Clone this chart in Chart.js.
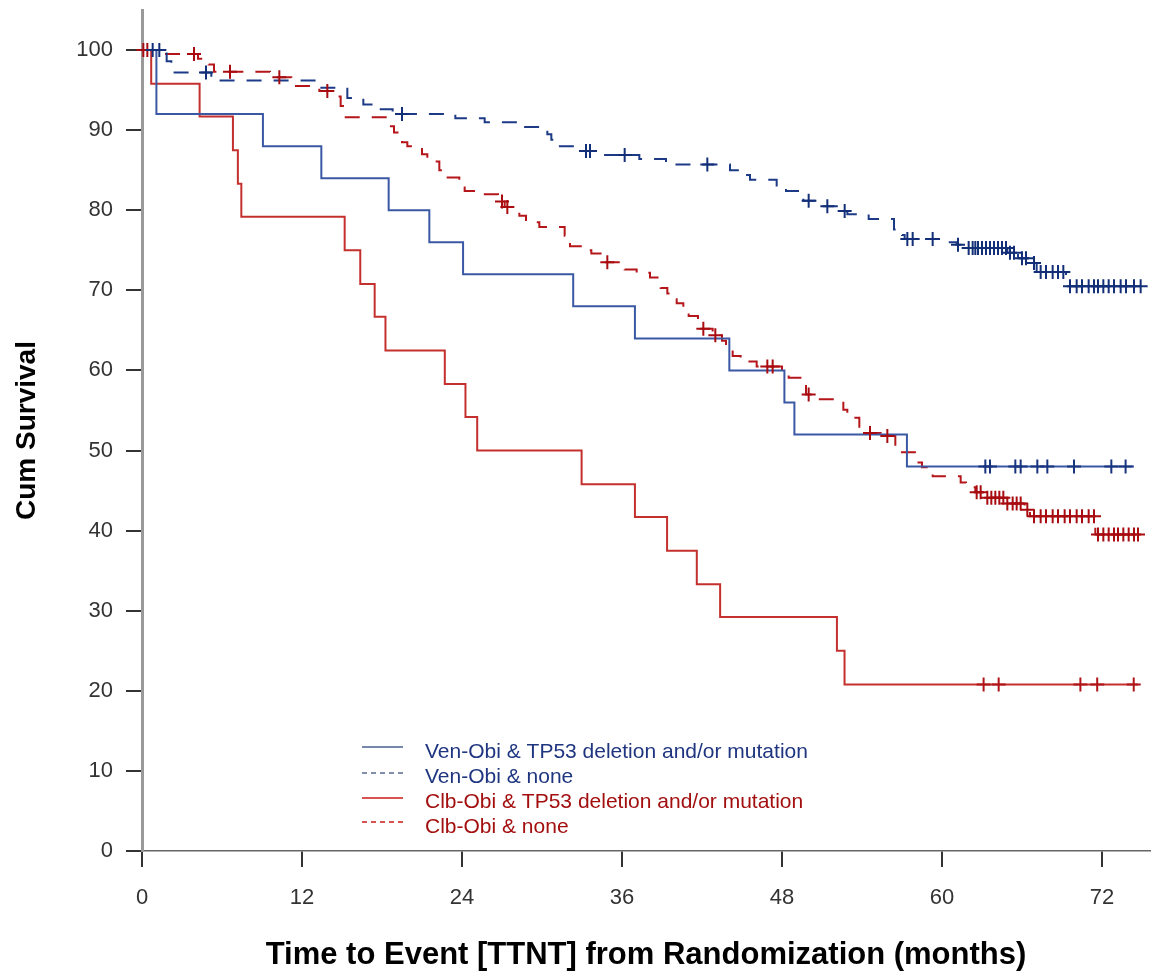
<!DOCTYPE html>
<html><head><meta charset="utf-8">
<script src="https://cdn.jsdelivr.net/npm/chart.js@4.4.1/dist/chart.umd.min.js"></script>
<style>html,body{margin:0;padding:0;background:#fff;overflow:hidden}canvas{display:block}</style>
</head><body><canvas id="c" width="1151" height="978" style="width:1151px;height:978px"></canvas>
<script>
// ---- data (months, cumulative survival %) ----
const seriesLabels = [
  "Ven-Obi & TP53 deletion and/or mutation",
  "Ven-Obi & none",
  "Clb-Obi & TP53 deletion and/or mutation",
  "Clb-Obi & none"
];
const xTickValues = [0, 12, 24, 36, 48, 60, 72];
const yTickValues = [0, 10, 20, 30, 40, 50, 60, 70, 80, 90, 100];
const xTitle = "Time to Event [TTNT] from Randomization (months)";
const yTitle = "Cum Survival";

const venTp53Times = [0, 1.08, 9.07, 13.45, 18.5, 21.55, 24.08, 32.34, 36.97, 44.05, 48.18, 48.93, 57.37, 74.4];
const venTp53Surv  = [100, 92, 88, 84, 80, 76, 72, 68, 64, 60, 56, 52, 48, 48];
const venTp53Censored = [63.25, 63.6, 65.5, 65.9, 67.15, 67.9, 69.9, 72.7, 73.77];

const venNoneTimes = [0, 1.85, 2.2, 5.2, 13.3, 15.4, 16.6, 17.5, 18.8, 23.5, 25.7, 28.5, 30.4, 30.7, 31.2, 32.7, 34.6, 37.3, 39.3, 44.1, 44.9, 45.6, 47.6, 48.3, 49.2, 49.6, 50.9, 52.4, 52.9, 54.5, 56.4, 57.0, 57.2, 60.0, 61.1, 61.7, 64.9, 65.7, 66.6, 67.1, 69.3, 75.1];
const venNoneSurv  = [100, 98.6, 97.2, 96.2, 95.3, 94.0, 93.2, 92.6, 92.0, 91.5, 91.0, 90.4, 89.5, 88.8, 88.0, 87.4, 86.9, 86.4, 85.7, 85.0, 84.4, 83.8, 82.9, 82.4, 81.7, 81.2, 80.5, 79.9, 79.5, 78.9, 77.6, 76.9, 76.4, 76.0, 75.7, 75.3, 74.7, 74.0, 73.4, 72.3, 70.5, 70.5];
const venNoneCensored = [0.8, 1.3, 4.8, 19.5, 33.3, 33.6, 36.2, 42.4, 50.0, 51.4, 52.7, 57.4, 57.8, 59.3, 61.2, 62.0, 62.3, 62.5, 62.7, 63.0, 63.3, 63.6, 63.9, 64.2, 64.5, 64.8, 65.1, 65.4, 66.0, 66.3, 66.9, 67.4, 67.8, 68.3, 68.7, 69.1, 69.6, 70.1, 70.5, 71.0, 71.4, 71.7, 72.1, 72.5, 72.9, 73.4, 73.8, 74.4, 74.9];

const clbTp53Times = [0, 0.69, 4.32, 6.82, 7.19, 7.45, 15.2, 16.37, 17.45, 18.26, 22.71, 24.26, 25.14, 32.97, 36.97, 39.38, 41.61, 43.36, 52.12, 52.69, 74.7];
const clbTp53Surv  = [100, 95.8, 91.7, 87.5, 83.3, 79.2, 75.0, 70.8, 66.7, 62.5, 58.3, 54.2, 50.0, 45.8, 41.7, 37.5, 33.3, 29.2, 25.0, 20.8, 20.8];
const clbTp53Censored = [63.12, 64.25, 70.38, 71.64, 74.38];

const clbNoneTimes = [0, 1.3, 4.2, 5.0, 5.4, 9.6, 11.2, 13.3, 14.5, 14.9, 15.2, 18.4, 18.9, 19.5, 19.9, 21.0, 21.4, 22.3, 22.8, 23.8, 24.2, 25.6, 26.7, 27.2, 28.3, 28.8, 29.8, 31.7, 32.1, 33.2, 33.7, 34.6, 36.2, 37.1, 38.1, 38.9, 39.4, 39.8, 40.1, 40.6, 41.0, 41.7, 42.8, 43.5, 43.8, 44.3, 44.9, 46.1, 48.0, 48.5, 49.5, 49.8, 50.3, 52.6, 52.9, 53.8, 55.4, 56.5, 58.1, 58.5, 59.3, 61.4, 61.8, 62.5, 63.2, 64.7, 66.2, 66.6, 71.5, 74.8];
const clbNoneSurv  = [100, 99.5, 98.9, 98.2, 97.3, 96.6, 95.5, 94.9, 94.2, 93.0, 91.6, 90.5, 89.7, 88.5, 88.0, 87.0, 86.1, 85.0, 84.1, 83.3, 82.4, 82.0, 81.1, 80.4, 79.3, 78.5, 77.9, 76.8, 75.5, 75.0, 74.6, 73.5, 72.6, 72.2, 71.6, 70.3, 69.6, 68.9, 68.4, 67.6, 66.8, 65.2, 64.4, 63.7, 62.9, 61.8, 61.1, 60.5, 60.0, 59.1, 58.2, 57.0, 56.4, 55.1, 54.1, 52.2, 51.8, 49.8, 48.5, 47.9, 46.8, 46.0, 45.4, 44.8, 44.1, 43.4, 42.6, 41.8, 39.5, 39.5];
const clbNoneCensored = [0.1, 0.4, 3.9, 6.6, 10.3, 13.9, 27.0, 27.4, 34.9, 42.1, 43.0, 46.9, 47.3, 50.0, 54.6, 55.9, 62.6, 62.9, 63.4, 63.7, 64.0, 64.3, 64.6, 64.9, 65.3, 65.6, 65.9, 66.4, 66.9, 67.4, 67.8, 68.3, 68.7, 69.2, 69.6, 70.1, 70.5, 71.0, 71.4, 71.7, 72.1, 72.5, 72.9, 73.2, 73.6, 74.0, 74.4, 74.7];

// ---- helpers ----
function toPoints(times, surv) { return times.map((t, i) => ({x: t, y: surv[i]})); }
function survAt(times, surv, t) {
  let v = surv[0];
  for (let i = 0; i < times.length; i++) { if (times[i] <= t) v = surv[i]; else break; }
  return v;
}
function censorPoints(times, surv, cens) { return cens.map(t => ({x: t, y: survAt(times, surv, t)})); }

const lineColors = ['#3a58a4', '#1c3a86', '#c4302e', '#b5161a'];
const markColors = ['#1a3580', '#132f78', '#b01418', '#a80c10'];
const dashes = [[], [15, 12], [], [15, 12]];
const legendTextColors = ['#1f3580', '#1f3580', '#a30f0f', '#a30f0f'];
const legendLineColors = ['#4a5f8f', '#5a6a90', '#cc1a1a', '#cc1a1a'];

const groups = [
  [venTp53Times, venTp53Surv, venTp53Censored],
  [venNoneTimes, venNoneSurv, venNoneCensored],
  [clbTp53Times, clbTp53Surv, clbTp53Censored],
  [clbNoneTimes, clbNoneSurv, clbNoneCensored]
];

const datasets = [];
groups.forEach((g, i) => {
  datasets.push({
    label: seriesLabels[i],
    data: toPoints(g[0], g[1]),
    stepped: 'before',
    borderColor: lineColors[i],
    borderWidth: 2,
    borderDash: dashes[i],
    pointRadius: 0,
    fill: false,
    order: 10 + i
  });
});
groups.forEach((g, i) => {
  datasets.push({
    label: seriesLabels[i] + ' (censored)',
    data: censorPoints(g[0], g[1], g[2]),
    showLine: false,
    pointStyle: 'cross',
    pointRadius: 7,
    pointBorderWidth: 2,
    pointBorderColor: markColors[i],
    pointBackgroundColor: markColors[i],
    borderColor: markColors[i],
    clip: false,
    order: 1 + i
  });
});

const kmLegend = {
  id: 'kmLegend',
  afterDatasetsDraw(chart) {
    const ctx = chart.ctx;
    const lineY = [747, 773, 798, 822];
    const textY = [752, 777, 802, 827];
    ctx.save();
    ctx.font = '21px "Liberation Sans", Arial, sans-serif';
    ctx.textBaseline = 'middle';
    ctx.textAlign = 'left';
    for (let i = 0; i < 4; i++) {
      ctx.beginPath();
      ctx.strokeStyle = legendLineColors[i];
      ctx.lineWidth = 1.5;
      ctx.setLineDash(dashes[i].length ? [5, 4] : []);
      ctx.moveTo(362, lineY[i]);
      ctx.lineTo(403, lineY[i]);
      ctx.stroke();
      ctx.setLineDash([]);
      ctx.fillStyle = legendTextColors[i];
      ctx.fillText(seriesLabels[i], 425, textY[i]);
    }
    ctx.restore();
  }
};

const tickFont = {family: '"Liberation Sans", Arial, sans-serif', size: 22};

new Chart(document.getElementById('c'), {
  type: 'line',
  data: {datasets},
  plugins: [kmLegend],
  options: {
    responsive: false,
    animation: false,
    devicePixelRatio: 1,
    events: [],
    layout: {autoPadding: false, padding: {top: 10, right: 1, left: 0, bottom: 0}},
    plugins: {legend: {display: false}, tooltip: {enabled: false}},
    scales: {
      x: {
        type: 'linear', min: 0, max: 75.6,
        afterBuildTicks: s => { s.ticks = xTickValues.map(v => ({value: v})); },
        afterFit: s => { s.height = 127; s.paddingLeft = 0; s.paddingRight = 0; },
        grid: {drawOnChartArea: false, drawTicks: true, tickLength: 16, color: '#333', lineWidth: 2},
        border: {color: '#666', width: 1.5},
        ticks: {font: tickFont, color: '#333', padding: 18, maxRotation: 0, autoSkip: false},
        title: {display: true, text: xTitle, color: '#000',
          font: {family: '"Liberation Sans", Arial, sans-serif', size: 31, weight: 'bold'},
          padding: {top: 0, bottom: 4}}
      },
      y: {
        type: 'linear', min: 0, max: 105,
        afterBuildTicks: s => { s.ticks = yTickValues.map(v => ({value: v})); },
        afterFit: s => { s.width = 142; s.paddingTop = 0; s.paddingBottom = 0; s.paddingLeft = 0; s.paddingRight = 0; },
        grid: {drawOnChartArea: false, drawTicks: true, tickLength: 16, color: '#333', lineWidth: 2},
        border: {color: '#999', width: 3},
        ticks: {font: tickFont, color: '#333', padding: 13},
        title: {display: true, text: yTitle, color: '#000',
          font: {family: '"Liberation Sans", Arial, sans-serif', size: 28, weight: 'bold'},
          padding: {top: 10, bottom: 0}}
      }
    }
  }
});
</script>
</body></html>
